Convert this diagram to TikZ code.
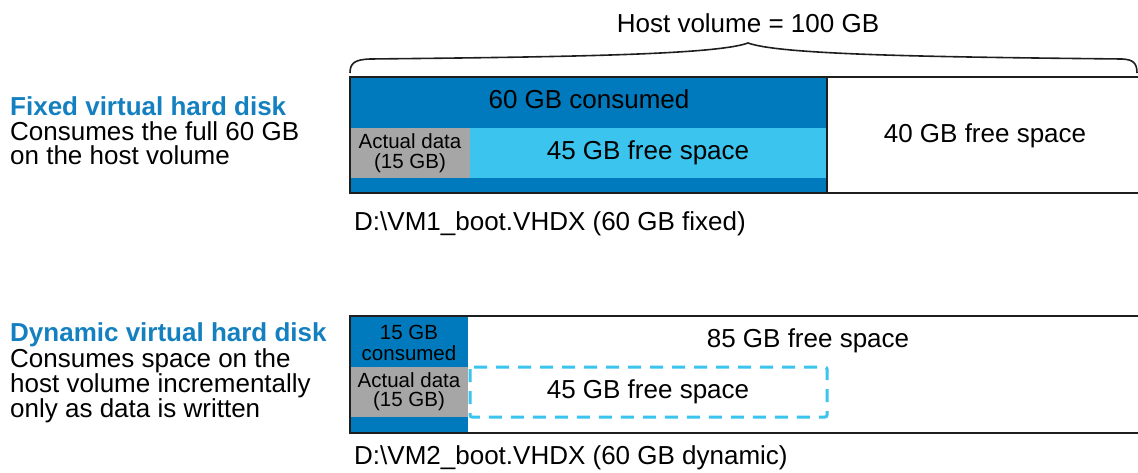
\documentclass[tikz,border=0pt]{standalone}
\usepackage{fontspec}
\setmainfont{Liberation Sans}
\definecolor{darkblue}{RGB}{0,122,188}
\definecolor{lightblue}{RGB}{59,196,238}
\definecolor{datagray}{RGB}{166,166,166}
\definecolor{headblue}{RGB}{20,128,192}
\definecolor{edge}{RGB}{30,30,30}
\begin{document}
\begin{tikzpicture}[x=1pt,y=-1pt,
  every node/.style={inner sep=0pt,anchor=base},
  big/.style={font=\fontsize{26}{30}\selectfont},
  small/.style={font=\fontsize{20.5}{24}\selectfont},
  head/.style={font=\fontsize{26}{30}\selectfont\bfseries,text=headblue,anchor=base west},
  desc/.style={big,anchor=base west},
  border/.style={draw=edge,line width=2pt},
  dashbox/.style={draw=lightblue,line width=3pt,dash pattern=on 13pt off 9pt,rounded corners=2pt}]
\path[use as bounding box] (0,0) rectangle (1138,472);
\clip (0,0) rectangle (1138,472);
% brace
\draw[line width=1.6pt,edge] (350,73) .. controls (350,63) and (355,59.5) .. (370,59)
  .. controls (560,57) and (715,55) .. (748,43)
  .. controls (781,55) and (936,57) .. (1122,59)
  .. controls (1133,59.5) and (1137,63) .. (1137,73);
\node[big] (host) at (748,32) {Host volume = 100 GB};
% fixed disk box
\fill[darkblue] (350,77) rectangle (827,193);
\fill[lightblue] (350,128) rectangle (827,178);
\fill[datagray] (350,128) rectangle (470,178);
\fill[white] (827,77) rectangle (1142,193);
\draw[border] (350,77) rectangle (1142,193);
\draw[border] (827,77) -- (827,193);
\node[big] (c60) at (589,108) {60 GB consumed};
\node[small] (ad1) at (410,148) {Actual data};
\node[small] (ad1b) at (410,168) {(15 GB)};
\node[big] (f45a) at (648,159) {45 GB free space};
\node[big] (f40) at (985,142) {40 GB free space};
\node[big,anchor=base west] (vm1) at (354,230) {D:\textbackslash VM1\_boot.VHDX (60 GB fixed)};
% dynamic disk box
\fill[white] (350,316) rectangle (1142,433);
\fill[darkblue] (350,316) rectangle (468,433);
\fill[datagray] (350,367) rectangle (468,417);
\draw[dashbox] (470,367) rectangle (827,417);
\draw[border] (350,316) rectangle (1142,433);
\node[small] (c15a) at (409,339) {15 GB};
\node[small] (c15b) at (409,360) {consumed};
\node[small] (ad2) at (409,387) {Actual data};
\node[small] (ad2b) at (409,406) {(15 GB)};
\node[big] (f85) at (808,347) {85 GB free space};
\node[big] (f45b) at (648,398) {45 GB free space};
\node[big,anchor=base west] (vm2) at (354,464) {D:\textbackslash VM2\_boot.VHDX (60 GB dynamic)};
% left descriptions
\node[head] (fixh) at (10,115) {Fixed virtual hard disk};
\node[desc] (fix1) at (10,140) {Consumes the full 60 GB};
\node[desc] (fix2) at (10,164) {on the host volume};
\node[head] (dynh) at (10,341) {Dynamic virtual hard disk};
\node[desc] (dyn1) at (10,367) {Consumes space on the};
\node[desc] (dyn2) at (10,392.5) {host volume incrementally};
\node[desc] (dyn3) at (10,417) {only as data is written};
\end{tikzpicture}
\end{document}
